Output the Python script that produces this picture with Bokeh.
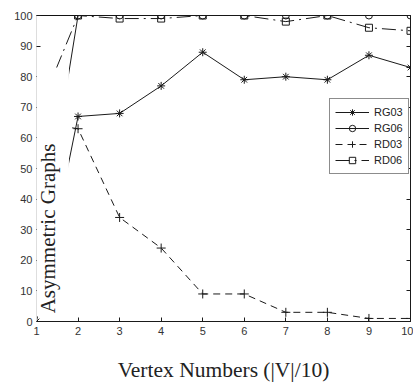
from math import pi
from bokeh.plotting import figure
from bokeh.models import LinearAxis, Range1d, FixedTicker, Legend, LegendItem, Label, BoxAnnotation
from bokeh.embed import file_html
from bokeh.resources import INLINE

# ---- data ----
vertex_numbers = [1, 2, 3, 4, 5, 6, 7, 8, 9, 10]
rg03 = [0, 67, 68, 77, 88, 79, 80, 79, 87, 83]
rg06 = [16, 100, 100, 100, 100, 100, 100, 100, 100, 100]
rd03 = [65, 63, 34, 24, 9, 9, 3, 3, 1, 1]
rd06 = [67, 100, 99, 99, 100, 100, 98, 100, 96, 95]
x_ticks = [1, 2, 3, 4, 5, 6, 7, 8, 9, 10]
y_ticks = [0, 10, 20, 30, 40, 50, 60, 70, 80, 90, 100]
x_title = "Vertex Numbers (|V|/10)"
y_title = "Asymmetric Graphs"

p = figure(width=413, height=384, output_backend="svg", toolbar_location=None,
           x_range=Range1d(1, 10), y_range=Range1d(0, 100),
           min_border_left=36, min_border_right=3, min_border_top=15, min_border_bottom=63)
p.xgrid.visible = False
p.ygrid.visible = False
p.outline_line_color = "#111111"
p.background_fill_color = "white"
p.border_fill_color = "white"

ink = "#1a1a1a"
for ax in (p.xaxis[0], p.yaxis[0]):
    ax.major_tick_in = 4
    ax.major_tick_out = 0
    ax.minor_tick_in = 0
    ax.minor_tick_out = 0
    ax.axis_line_color = ink
    ax.major_tick_line_color = ink
    ax.major_label_text_font = "Liberation Sans"
    ax.major_label_text_font_size = "11px"
    ax.major_label_text_color = "#333333"
p.xaxis[0].ticker = FixedTicker(ticks=x_ticks)
p.yaxis[0].ticker = FixedTicker(ticks=y_ticks)
p.xaxis[0].major_label_standoff = 5
p.yaxis[0].major_label_standoff = 4
p.yaxis[0].axis_line_color = "#dddddd"
p.xaxis[0].axis_label = x_title
p.xaxis[0].axis_label_text_font = "Liberation Serif"
p.xaxis[0].axis_label_text_font_size = "21.5px"
p.xaxis[0].axis_label_text_font_style = "normal"
p.xaxis[0].axis_label_text_color = "#222222"
p.xaxis[0].axis_label_text_line_height = 0.8
p.xaxis[0].axis_label_standoff = 20

right_ax = LinearAxis(ticker=FixedTicker(ticks=y_ticks), major_tick_in=4, major_tick_out=0,
                      minor_tick_in=0, minor_tick_out=0,
                      major_label_overrides={t: "" for t in y_ticks},
                      axis_line_color=ink, major_tick_line_color=ink)
p.add_layout(right_ax, "right")

# occluding white panel behind the y label (as in the scanned original)
p.add_layout(BoxAnnotation(left=1.01, right=1.78, bottom=1.6, top=83,
                           fill_color="white", fill_alpha=1.0, line_alpha=0))

r1 = p.line(vertex_numbers, rg03, line_color=ink, line_width=1)
m1 = p.scatter(vertex_numbers, rg03, marker="asterisk", size=8, line_color=ink)
r2 = p.line(vertex_numbers, rg06, line_color=ink, line_width=1)
m2 = p.scatter(vertex_numbers, rg06, marker="circle", size=7, line_color=ink, fill_color=None)
r3 = p.line(vertex_numbers, rd03, line_color=ink, line_width=1, line_dash="7 5")
m3 = p.scatter(vertex_numbers, rd03, marker="cross", size=9, line_color=ink)
r4 = p.line(vertex_numbers, rd06, line_color=ink, line_width=1, line_dash="14 5 2 5")
m4 = p.scatter(vertex_numbers, rd06, marker="square", size=7, line_color=ink, fill_color=None)

# y title sits inside the plot area, as in the original
p.add_layout(Label(x=1.285, y=30.4, text=y_title, angle=pi / 2,
                   text_align="center", text_baseline="middle",
                   text_font="Liberation Serif", text_font_size="21px", text_color="#222222"))

legend = Legend(items=[LegendItem(label="RG03", renderers=[r1, m1]),
                       LegendItem(label="RG06", renderers=[r2, m2]),
                       LegendItem(label="RD03", renderers=[r3, m3]),
                       LegendItem(label="RD06", renderers=[r4, m4])],
                location=(293, 147), orientation="vertical",
                padding=5, spacing=0, margin=0,
                glyph_width=34, glyph_height=16, label_height=16, label_standoff=5,
                label_text_font="Liberation Sans", label_text_font_size="11px",
                label_text_color="#222222",
                border_line_color=ink, border_line_width=1,
                background_fill_color="white", background_fill_alpha=1.0)
p.add_layout(legend)

open("out.html", "w").write(file_html(p, INLINE))
